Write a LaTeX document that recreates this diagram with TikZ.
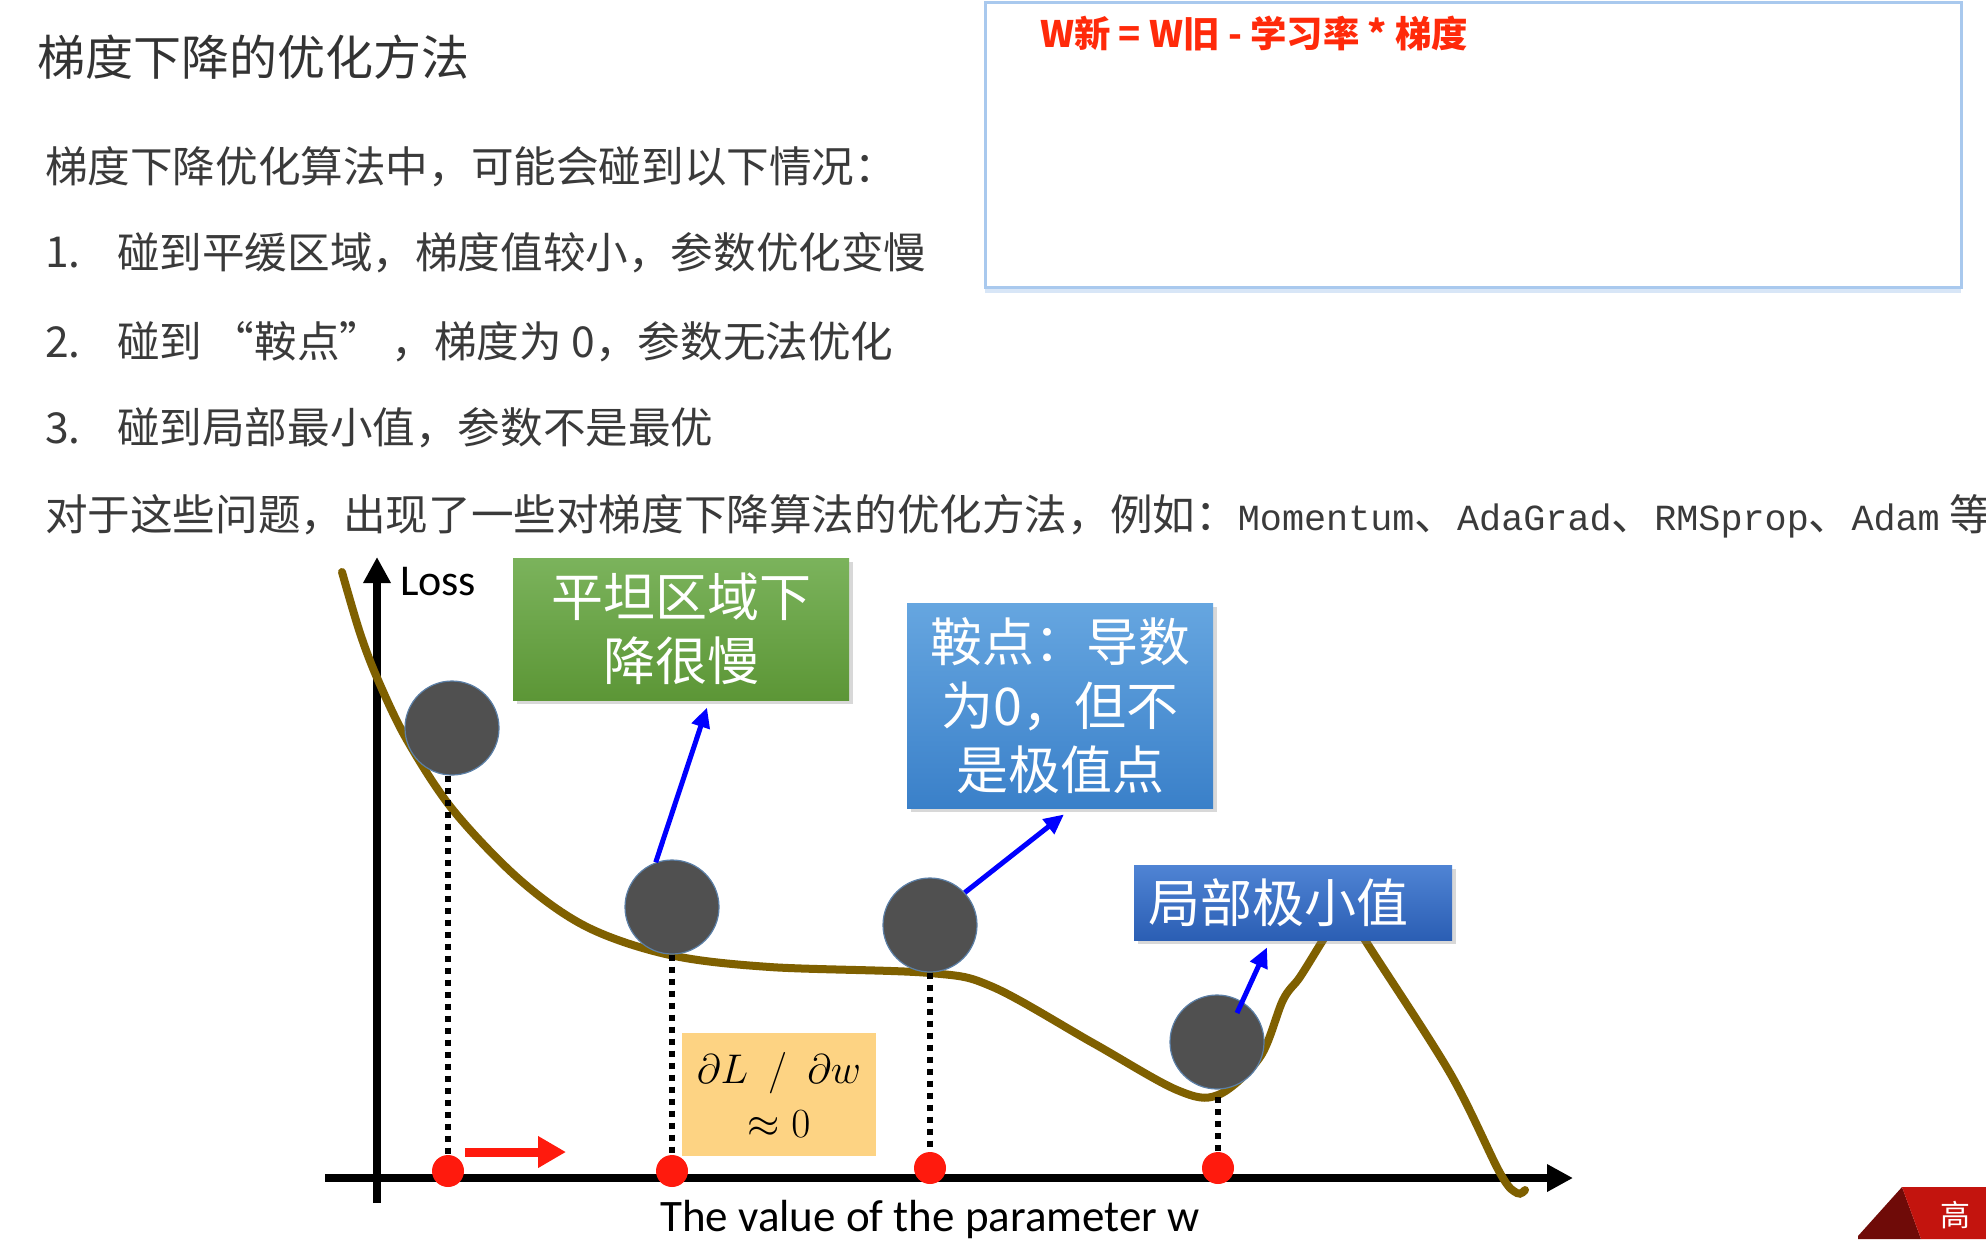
\documentclass[tikz,border=0pt]{standalone}
\usepackage{fontspec}
\setmainfont{Noto Sans CJK SC}
\newfontfamily\calibri{Carlito}
\newfontfamily\codefont{Liberation Mono}
\usepackage{xcolor}
\usetikzlibrary{arrows.meta,positioning,calc,shadows}
\definecolor{curvebrown}{HTML}{7F6000}
\definecolor{ballgray}{HTML}{505050}
\definecolor{ballrim}{HTML}{5B7FA6}
\definecolor{dotred}{HTML}{FF1A0D}
\definecolor{flatA}{HTML}{7BB35C}
\definecolor{flatB}{HTML}{5C9636}
\definecolor{saddleA}{HTML}{66A6E0}
\definecolor{saddleB}{HTML}{3A80C9}
\definecolor{localA}{HTML}{4F84D4}
\definecolor{localB}{HTML}{2B5EB4}
\definecolor{derivfill}{HTML}{FDD383}
\definecolor{textgray}{HTML}{3A3A3A}
\definecolor{titlegray}{HTML}{333333}
\definecolor{formulared}{HTML}{FF2A0A}
\definecolor{panelblue}{HTML}{A9C9EE}
\definecolor{bannerred}{HTML}{C3140E}
\definecolor{bannerdark}{HTML}{6F0B08}
\newcommand{\algo}[1]{{\codefont\fontsize{18.4pt}{22pt}\selectfont #1}}

\begin{document}
\begin{tikzpicture}[x=0.5pt, y=-0.5pt,
  line/.style={anchor=west, text=textgray, font=\fontsize{21.3pt}{24pt}\selectfont},
  callout/.style={text=white, align=center, font=\fontsize{26pt}{32pt}\selectfont, inner sep=0pt,
    drop shadow={shadow xshift=2pt, shadow yshift=-2pt, opacity=.3}},
  ball/.style={circle, fill=ballgray, draw=ballrim, line width=0.6pt, minimum size=47pt, inner sep=0pt},
  reddot/.style={circle, fill=dotred, minimum size=16pt, inner sep=0pt},
  dropline/.style={line width=3pt, dash pattern=on 3pt off 3pt},
  axis/.style={line width=4pt, -{Triangle[length=13pt,width=13pt]}},
  push/.style={dotred, line width=4.5pt, -{Triangle[length=14pt,width=15pt]}},
  pointer/.style={blue, line width=2.5pt, -{Triangle[length=10pt,width=9pt]}}
]
\useasboundingbox (0,0) rectangle (1986,1239);
\fill[white] (0,0) rectangle (1986,1239);

\node[draw=panelblue, line width=1.5pt, fill=white, minimum width=488pt, minimum height=142.5pt, inner sep=0pt,
  drop shadow={shadow xshift=0pt, shadow yshift=-3pt, fill=panelblue, opacity=.45}] (panel) at (1473,144.5) {};
\node[anchor=west, text=formulared, font=\bfseries\fontsize{18.2pt}{20pt}\selectfont] (rule) at (1033,34) {W新 = W旧 - 学习率 * 梯度};

\node[anchor=west, text=titlegray, font=\fontsize{24pt}{28pt}\selectfont] (title) at (30,57) {梯度下降的优化方法};
\node[line] (intro) at (38,167) {梯度下降优化算法中，可能会碰到以下情况：};
\node[line] (n1) at (38,253) {1.};
\node[line] (c1) at (110,253) {碰到平缓区域，梯度值较小，参数优化变慢};
\node[line] (n2) at (38,342) {2.};
\node[line] (c2) at (110,342) {碰到 “鞍点” ，梯度为 0，参数无法优化};
\node[line] (n3) at (38,428) {3.};
\node[line] (c3) at (110,428) {碰到局部最小值，参数不是最优};
\node[line] (summary) at (38,516) {对于这些问题，出现了一些对梯度下降算法的优化方法，例如：\algo{Momentum}、\algo{AdaGrad}、\algo{RMSprop}、\algo{Adam} 等};

\coordinate (ybot) at (377,1203);
\coordinate (ytop) at (377,557);
\coordinate (xleft) at (325,1178);
\coordinate (xright) at (1573,1178);
\draw[axis] (ybot) -- (ytop);
\draw[axis] (xleft) -- (xright);
\node[anchor=west, font=\calibri\fontsize{22pt}{26pt}\selectfont] (loss) at (393,582) {Loss};
\node[font=\calibri\fontsize{22.5pt}{26pt}\selectfont] (wlabel) at (930,1219) {The value of the parameter w};

\draw[curvebrown, line width=4pt, line cap=round] plot[smooth, tension=0.55] coordinates {
  (342,572) (360,633) (378,680) (407,740) (453,810) (520,880) (587,927) (670,955) (770,967)
  (930,973) (993,987) (1093,1043) (1177,1090) (1218,1095) (1260,1057) (1283,1000) (1300,977)
  (1323,940) (1345,905) (1365,940) (1450,1073) (1500,1173) (1517,1193) (1525,1190)};

\node[ball] (ball1) at (452,728) {};
\node[ball] (ball2) at (672,907) {};
\node[ball] (ball3) at (930,925) {};
\node[ball] (ball4) at (1217,1042) {};
\node[reddot] (w1) at (448,1171) {};
\node[reddot] (w2) at (672,1171) {};
\node[reddot] (w3) at (930,1168) {};
\node[reddot] (w4) at (1218,1168) {};
\draw[dropline] (ball1.south -| w1) -- (w1.north);
\draw[dropline] (ball2.south) -- (w2.north);
\draw[dropline] (ball3.south) -- (w3.north);
\draw[dropline] (1218,1097) -- (w4.north);

\coordinate (push0) at (465,1152);
\coordinate (push1) at (566,1152);
\draw[push] (push0) -- (push1);

\node[callout, minimum width=168pt, minimum height=71pt, top color=flatA, bottom color=flatB] (flat) at (681,629) {平坦区域下\\降很慢};
\node[callout, minimum width=153pt, minimum height=102.5pt, top color=saddleA, bottom color=saddleB] (saddle) at (1060,705.5) {鞍点：导数\\为0，但不\\是极值点};
\node[callout, text width=145pt, align=left, inner xsep=7pt, minimum height=37.5pt, top color=localA, bottom color=localB] (local) at (1293,902.5) {局部极小值};
\node[fill=derivfill, minimum width=97pt, minimum height=61.5pt, inner sep=0pt, align=center, font=\fontsize{20pt}{27pt}\selectfont] (grad) at (779,1094.5) {$\partial L\hspace{0.5em}/\hspace{0.5em}\partial w$\\$\approx 0$};

\draw[pointer] (ball2.110) -- ($(flat.south)+(26,7)$);
\draw[pointer] (ball3.43) -- ($(saddle.south)+(4,6)$);
\draw[pointer] ($(ball4.center)+(20,-29)$) -- ($(local.south)+(-26,7)$);

\fill[bannerdark] (1858,1236) -- (1902,1187) -- (1921,1239) -- (1858,1239) -- cycle;
\fill[bannerred] (1902,1187) -- (1986,1187) -- (1986,1239) -- (1921,1239) -- cycle;
\node[text=white, font=\fontsize{15pt}{18pt}\selectfont] (brand) at (1955,1215) {高};
\end{tikzpicture}
\end{document}
